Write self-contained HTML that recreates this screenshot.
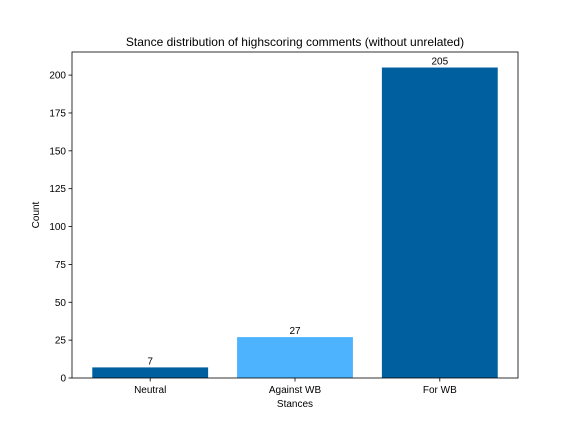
<!DOCTYPE html>
<html><head><meta charset="utf-8"><style>body{margin:0;background:#fff}svg{display:block;font-family:"Liberation Sans","DejaVu Sans",sans-serif}</style></head>
<body>
<svg id="chart" width="576" height="432" xmlns="http://www.w3.org/2000/svg"></svg>
<script>
const categories = ["Neutral", "Against WB", "For WB"];
const counts = [7, 27, 205];
const barColors = ["#005f9e", "#4db3ff", "#005f9e"];
const yTicks = [0, 25, 50, 75, 100, 125, 150, 175, 200];

const svg = document.getElementById('chart');
const NS = 'http://www.w3.org/2000/svg';
const L = 72, R = 518, T = 52, B = 378;
const ymax = Math.max(...counts) * 1.05;
const xmin = -0.54, xmax = categories.length - 1 + 0.54;
const y = v => B - (B - T) * v / ymax;
const x = v => L + (R - L) * (v - xmin) / (xmax - xmin);
function mk(tag, attrs, text) {
  const e = document.createElementNS(NS, tag);
  for (const k in attrs) e.setAttribute(k, attrs[k]);
  if (text !== undefined) e.textContent = text;
  svg.appendChild(e);
  return e;
}
const title = mk('text', {x: (L + R) / 2, y: 46, 'text-anchor': 'middle', 'font-size': 12}, 'Stance distribution of highscoring comments (without unrelated)');



counts.forEach((c, i) => {
  const x0 = x(i - 0.4), x1 = x(i + 0.4);
  const bar = mk('rect', {x: x0, y: y(c), width: x1 - x0, height: B - y(c), fill: barColors[i]});
  
  
  const lbl = mk('text', {x: x(i), y: y(c) - 3, 'text-anchor': 'middle', 'font-size': 10}, String(c));
  
  
  mk('line', {x1: x(i), x2: x(i), y1: B, y2: B + 3.5, stroke: '#000', 'stroke-width': 0.8});
  const tl = mk('text', {x: x(i), y: B + 15, 'text-anchor': 'middle', 'font-size': 10}, categories[i]);
  
  
});
yTicks.forEach(t => {
  mk('line', {x1: L - 3.5, x2: L, y1: y(t), y2: y(t), stroke: '#000', 'stroke-width': 0.8});
  const tl = mk('text', {x: L - 6, y: y(t) + 3.5, 'text-anchor': 'end', 'font-size': 10}, String(t));
  
  
});
const frame = mk('rect', {x: L, y: T, width: R - L, height: B - T, fill: 'none', stroke: '#000', 'stroke-width': 0.8});


const xt = mk('text', {x: (L + R) / 2, y: 407, 'text-anchor': 'middle', 'font-size': 10}, 'Stances');


const yt = mk('text', {x: 39, y: (T + B) / 2, 'text-anchor': 'middle', 'font-size': 10, transform: `rotate(-90 39 ${(T + B) / 2})`}, 'Count');


</script>
</body></html>
